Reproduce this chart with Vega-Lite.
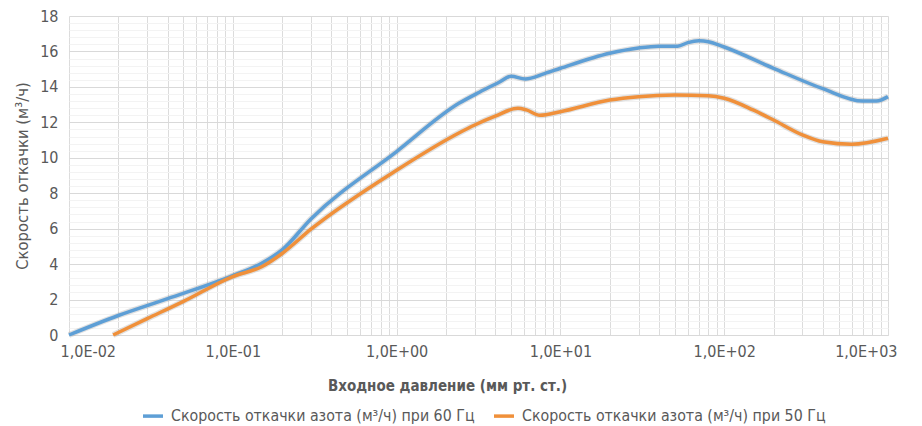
{
  "$schema": "https://vega.github.io/schema/vega-lite/v6.json",
  "description": "Скорость откачки азота при 60 и 50 Гц в зависимости от входного давления.",
  "width": 819,
  "height": 319,
  "autosize": {"type": "none"},
  "padding": {"left": 69, "top": 16, "right": 34, "bottom": 91},
  "config": {
    "view": {"stroke": null},
    "font": "DejaVu Sans Condensed",
    "axis": {"labelColor": "#595959", "titleColor": "#595959", "labelFontSize": 16, "titleFontSize": 15, "ticks": false}
  },
  "data": {
    "values": [
      {"p": 0.01, "v": 0, "s": "60"},
      {"p": 0.02, "v": 1.1, "s": "60"},
      {"p": 0.04, "v": 2.05, "s": "60"},
      {"p": 0.1, "v": 3.35, "s": "60"},
      {"p": 0.15, "v": 4.05, "s": "60"},
      {"p": 0.2, "v": 4.8, "s": "60"},
      {"p": 0.3, "v": 6.55, "s": "60"},
      {"p": 1, "v": 10.35, "s": "60"},
      {"p": 2.4, "v": 13.07, "s": "60"},
      {"p": 3.2, "v": 13.7, "s": "60"},
      {"p": 4.2, "v": 14.25, "s": "60"},
      {"p": 5, "v": 14.6, "s": "60"},
      {"p": 6.1, "v": 14.45, "s": "60"},
      {"p": 8, "v": 14.75, "s": "60"},
      {"p": 10, "v": 15.05, "s": "60"},
      {"p": 20, "v": 15.9, "s": "60"},
      {"p": 30, "v": 16.2, "s": "60"},
      {"p": 40, "v": 16.3, "s": "60"},
      {"p": 52, "v": 16.3, "s": "60"},
      {"p": 60, "v": 16.5, "s": "60"},
      {"p": 70, "v": 16.6, "s": "60"},
      {"p": 80, "v": 16.55, "s": "60"},
      {"p": 100, "v": 16.25, "s": "60"},
      {"p": 200, "v": 15.05, "s": "60"},
      {"p": 400, "v": 13.9, "s": "60"},
      {"p": 700, "v": 13.2, "s": "60"},
      {"p": 850, "v": 13.2, "s": "60"},
      {"p": 1000, "v": 13.45, "s": "60"},
      {"p": 0.0186, "v": 0, "s": "50"},
      {"p": 0.03, "v": 0.92, "s": "50"},
      {"p": 0.05, "v": 1.9, "s": "50"},
      {"p": 0.1, "v": 3.3, "s": "50"},
      {"p": 0.15, "v": 3.85, "s": "50"},
      {"p": 0.2, "v": 4.6, "s": "50"},
      {"p": 0.3, "v": 5.97, "s": "50"},
      {"p": 1, "v": 9.3, "s": "50"},
      {"p": 2.4, "v": 11.4, "s": "50"},
      {"p": 3, "v": 11.85, "s": "50"},
      {"p": 4, "v": 12.35, "s": "50"},
      {"p": 5.5, "v": 12.79, "s": "50"},
      {"p": 6.2, "v": 12.7, "s": "50"},
      {"p": 7.5, "v": 12.4, "s": "50"},
      {"p": 10, "v": 12.6, "s": "50"},
      {"p": 20, "v": 13.26, "s": "50"},
      {"p": 30, "v": 13.45, "s": "50"},
      {"p": 50, "v": 13.54, "s": "50"},
      {"p": 80, "v": 13.5, "s": "50"},
      {"p": 100, "v": 13.36, "s": "50"},
      {"p": 150, "v": 12.7, "s": "50"},
      {"p": 200, "v": 12.13, "s": "50"},
      {"p": 300, "v": 11.29, "s": "50"},
      {"p": 400, "v": 10.9, "s": "50"},
      {"p": 600, "v": 10.76, "s": "50"},
      {"p": 1000, "v": 11.1, "s": "50"}
    ]
  },
  "encoding": {
    "x": {
      "field": "p",
      "type": "quantitative",
      "scale": {"type": "log", "domain": [0.01, 1000], "nice": false},
      "axis": {
        "values": [0.01, 0.02, 0.03, 0.04, 0.05, 0.06, 0.07, 0.08, 0.09, 0.1, 0.2, 0.3, 0.4, 0.5, 0.6, 0.7, 0.8, 0.9, 1, 2, 3, 4, 5, 6, 7, 8, 9, 10, 20, 30, 40, 50, 60, 70, 80, 90, 100, 200, 300, 400, 500, 600, 700, 800, 900, 1000],
        "labelExpr": "abs(log(datum.value)/LN10 - round(log(datum.value)/LN10)) < 1e-6 ? '1,0E' + (round(log(datum.value)/LN10) < 0 ? '-' : '+') + '0' + abs(round(log(datum.value)/LN10)) : ''",
        "labelFlush": true,
        "labelFlushOffset": 9,
        "labelPadding": 8,
        "grid": true,
        "gridColor": "#dcdcdc",
        "domainColor": "#d9d9d9",
        "title": "Входное давление (мм рт. ст.)",
        "titleFontWeight": "bold",
        "titleX": 378,
        "titleY": 55,
        "titleBaseline": "alphabetic"
      }
    },
    "y": {
      "field": "v",
      "type": "quantitative",
      "scale": {"domain": [0, 18], "nice": false},
      "axis": {
        "values": [0, 0.4, 0.8, 1.2, 1.6, 2, 2.4, 2.8, 3.2, 3.6, 4, 4.4, 4.8, 5.2, 5.6, 6, 6.4, 6.8, 7.2, 7.6, 8, 8.4, 8.8, 9.2, 9.6, 10, 10.4, 10.8, 11.2, 11.6, 12, 12.4, 12.8, 13.2, 13.6, 14, 14.4, 14.8, 15.2, 15.6, 16, 16.4, 16.8, 17.2, 17.6, 18],
        "labelExpr": "datum.value % 2 == 0 ? format(datum.value, 'd') : ''",
        "gridColor": {"condition": {"test": "datum.value % 2 == 0", "value": "#d9d9d9"}, "value": "#f3f3f3"},
        "domain": false,
        "labelPadding": 11,
        "title": "Скорость откачки (м³/ч)",
        "titleFontSize": 16.5,
        "titleFontWeight": "normal",
        "titlePadding": 9
      }
    }
  },
  "layer": [
    {
      "mark": {"type": "line", "interpolate": "monotone", "strokeWidth": 6, "color": "#888888", "opacity": 0.25},
      "encoding": {"detail": {"field": "s"}}
    },
    {
      "mark": {"type": "line", "interpolate": "monotone", "strokeWidth": 3.5},
      "encoding": {
        "color": {
          "field": "s",
          "type": "nominal",
          "scale": {"domain": ["60", "50"], "range": ["#5e9fd6", "#f0903a"]},
          "legend": {
            "title": null,
            "orient": "none",
            "legendX": 72,
            "legendY": 388,
            "direction": "horizontal",
            "labelExpr": "'Скорость откачки азота (м³/ч) при ' + datum.label + ' Гц'",
            "labelFontSize": 15.8,
            "labelColor": "#595959",
            "labelLimit": 400,
            "symbolType": "stroke",
            "symbolSize": 400,
            "symbolStrokeWidth": 3.5,
            "labelOffset": 6,
            "columnPadding": 12
          }
        }
      }
    }
  ]
}
